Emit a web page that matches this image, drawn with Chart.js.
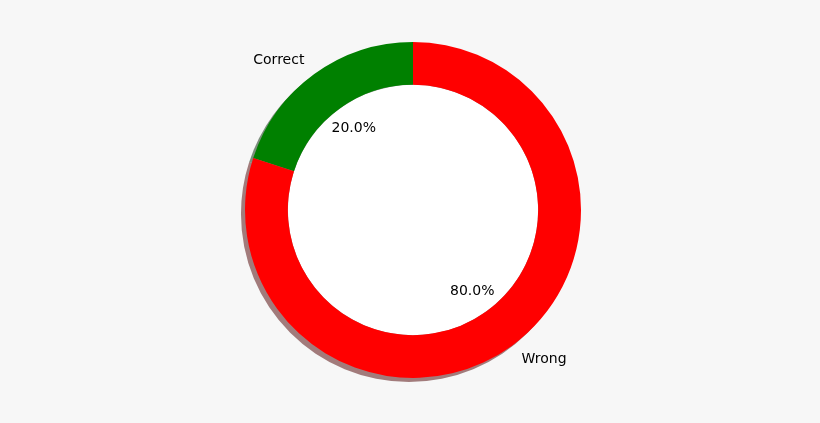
<!DOCTYPE html>
<html>
<head>
<meta charset="utf-8">
<script src="https://cdn.jsdelivr.net/npm/chart.js@4.4.1/dist/chart.umd.min.js"></script>
<style>
  html, body { margin: 0; padding: 0; background: #f7f7f7; }
  #wrap { width: 820px; height: 423px; }
</style>
</head>
<body>
<div id="wrap"><canvas id="pieChart"></canvas></div>
<script>
const labels = ["Correct", "Wrong"];
const values = [20, 80];
const colors = ["#008000", "#ff0000"];

// shadow, white centre circle and matplotlib-style text labels
const pieDecor = {
  id: "pieDecor",
  beforeDatasetsDraw(chart) {
    const arcs = chart.getDatasetMeta(0).data;
    const ctx = chart.ctx;
    const off = arcs[0].outerRadius * 0.024;
    ctx.save();
    arcs.forEach((arc, i) => {
      const c = colors[i] === "#008000" ? "rgba(0,38,0,0.5)" : "rgba(77,0,0,0.5)";
      ctx.beginPath();
      ctx.moveTo(arc.x - off, arc.y + off);
      ctx.arc(arc.x - off, arc.y + off, arc.outerRadius, arc.startAngle, arc.endAngle);
      ctx.closePath();
      ctx.fillStyle = c;
      ctx.fill();
    });
    const a = arcs[0];
    ctx.beginPath();
    ctx.arc(a.x, a.y, a.innerRadius, 0, Math.PI * 2);
    ctx.fillStyle = "#ffffff";
    ctx.fill();
    ctx.restore();
  },
  afterDatasetsDraw(chart) {
    const arcs = chart.getDatasetMeta(0).data;
    const ctx = chart.ctx;
    const total = values.reduce((s, v) => s + v, 0);
    ctx.save();
    ctx.font = "14px 'DejaVu Sans'";
    ctx.fillStyle = "#000000";
    ctx.textBaseline = "middle";
    arcs.forEach((arc, i) => {
      const mid = (arc.startAngle + arc.endAngle) / 2;
      const r = arc.outerRadius;
      const lx = arc.x + Math.cos(mid) * r * 1.1;
      const ly = arc.y + Math.sin(mid) * r * 1.1;
      ctx.textAlign = Math.cos(mid) < 0 ? "right" : "left";
      ctx.fillText(labels[i], lx, ly);
      ctx.textAlign = "center";
      const pct = (values[i] / total * 100).toFixed(1) + "%";
      ctx.fillText(pct, arc.x + Math.cos(mid) * r * 0.6, arc.y + Math.sin(mid) * r * 0.6);
    });
    ctx.restore();
  },
};

new Chart(document.getElementById("pieChart"), {
  type: "doughnut",
  data: {
    labels: labels,
    datasets: [{
      data: values,
      backgroundColor: colors,
      borderWidth: 0,
      hoverOffset: 0,
    }],
  },
  options: {
    responsive: true,
    maintainAspectRatio: false,
    animation: false,
    cutout: "74.5%",
    rotation: -72,
    layout: { padding: { top: 42, bottom: 45, left: 6, right: 0 } },
    plugins: { legend: { display: false }, tooltip: { enabled: false } },
  },
  plugins: [pieDecor],
});
</script>
</body>
</html>
